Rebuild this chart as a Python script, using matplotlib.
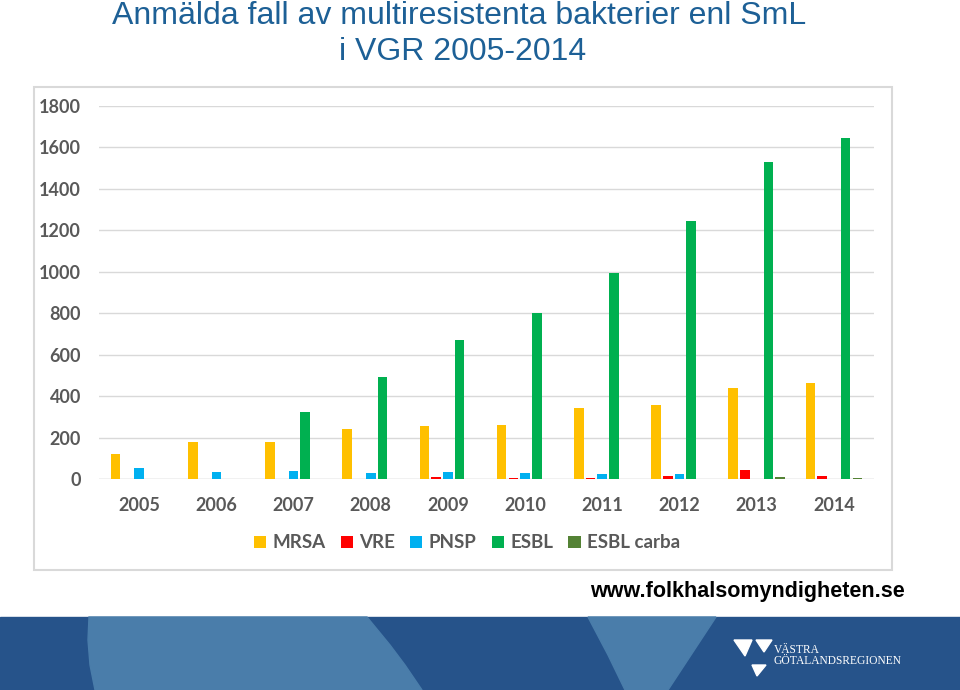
import numpy as np
import matplotlib.pyplot as plt
from matplotlib.patches import Rectangle, Polygon

years = ['2005', '2006', '2007', '2008', '2009', '2010', '2011', '2012', '2013', '2014']
mrsa = [122, 177, 177, 243, 255, 262, 344, 357, 439, 463]
vre = [0, 0, 0, 0, 8, 6, 6, 16, 42, 16]
pnsp = [53, 32, 37, 29, 32, 29, 24, 24, 0, 0]
esbl = [0, 0, 321, 490, 673, 799, 993, 1245, 1530, 1647]
esbl_carba = [0, 0, 0, 0, 0, 0, 0, 0, 8, 5]

series = ['MRSA', 'VRE', 'PNSP', 'ESBL', 'ESBL carba']
colors = ['#FFC000', '#FF0000', '#00B0F0', '#00B050', '#548235']

W, H = 960, 690
fig = plt.figure(figsize=(W/100, H/100), dpi=100)

# chart frame
fig.patches.append(Rectangle((34/W, 1-570/H), (892-34)/W, (570-87)/H,
                             transform=fig.transFigure, fill=False,
                             ec='#D9D9D9', lw=1.5))

ax = fig.add_axes([99/W, 1-479/H, (874-99)/W, (479-106)/H])
x = np.arange(len(years))
slot = 0.152
bw = 0.125
for i, (name, vals) in enumerate(zip(series, [mrsa, vre, pnsp, esbl, esbl_carba])):
    ax.bar(x + (i-2)*slot, vals, bw, color=colors[i], label=name, zorder=3)

ax.set_xlim(-0.52, 9.52)
ax.set_ylim(0, 1800)
ax.set_yticks(range(0, 1801, 200))
ax.set_xticks(x)
ax.set_xticklabels(years)
ax.grid(axis='y', color='#D9D9D9', lw=1, zorder=0)
for s in ax.spines.values():
    s.set_visible(False)
ax.tick_params(length=0, labelcolor='#595959', labelsize=13)
ax.tick_params(axis='y', pad=13)
ax.tick_params(axis='x', pad=13)
for lab in ax.get_xticklabels() + ax.get_yticklabels():
    lab.set_fontfamily('Lato')
    lab.set_fontweight('bold')
ax.axhline(0, color='#D9D9D9', lw=1, zorder=2)

leg = fig.legend(loc='center', bbox_to_anchor=(467/W, 1-543/H), ncol=5,
                 frameon=False, handlelength=0.65, handleheight=0.65,
                 handletextpad=0.35, columnspacing=0.8,
                 prop={'family': 'Lato', 'weight': 'bold', 'size': 13.5})
for t in leg.get_texts():
    t.set_color('#595959')

# title
fig.text(459/W, 1-16/H, 'Anmälda fall av multiresistenta bakterier enl SmL',
         ha='center', va='center', fontsize=23, color='#1D6096',
         family='Liberation Sans')
fig.text(463/W, 1-52/H, 'i VGR 2005-2014', ha='center', va='center',
         fontsize=23, color='#1D6096', family='Liberation Sans')

fig.text(905/W, 1-591/H, 'www.folkhalsomyndigheten.se', ha='right', va='center',
         fontsize=15.5, fontweight='bold', color='black',
         family=['Liberation Sans Narrow', 'Liberation Sans'])

# footer band
def fp(pts):
    return [(px/W, 1-py/H) for px, py in pts]

fig.patches.append(Rectangle((0, 0), 1, (690-617)/H, transform=fig.transFigure,
                             color='#26538A', zorder=0))
left_shape = fp([(89, 617), (88, 640), (90, 665), (95, 690), (422, 690),
                 (405, 665), (390, 645), (367, 617)])
fig.patches.append(Polygon(left_shape, closed=True, transform=fig.transFigure,
                           color='#4A7DAA', zorder=1))
wedge = fp([(588, 617), (716, 617), (668, 690), (625, 690), (608, 655)])
fig.patches.append(Polygon(wedge, closed=True, transform=fig.transFigure,
                           color='#4A7DAA', zorder=1))

# logo
fig.patches.append(Polygon(fp([(734, 640), (752, 640), (745, 656)]), closed=True,
                           transform=fig.transFigure, color='white', zorder=2))
fig.patches.append(Polygon(fp([(756, 640), (772, 640), (764, 652)]), closed=True,
                           transform=fig.transFigure, color='white', zorder=2))
fig.patches.append(Polygon(fp([(752, 665), (766, 665), (757, 676)]), closed=True,
                           transform=fig.transFigure, color='white', zorder=2))
fig.text(774/W, 1-650/H, 'VÄSTRA', ha='left', va='center', fontsize=8.3,
         color='white', family='Liberation Serif')
fig.text(774/W, 1-661/H, 'GÖTALANDSREGIONEN', ha='left', va='center', fontsize=8.3,
         color='white', family='Liberation Serif')

plt.savefig('out.png', dpi=100)
